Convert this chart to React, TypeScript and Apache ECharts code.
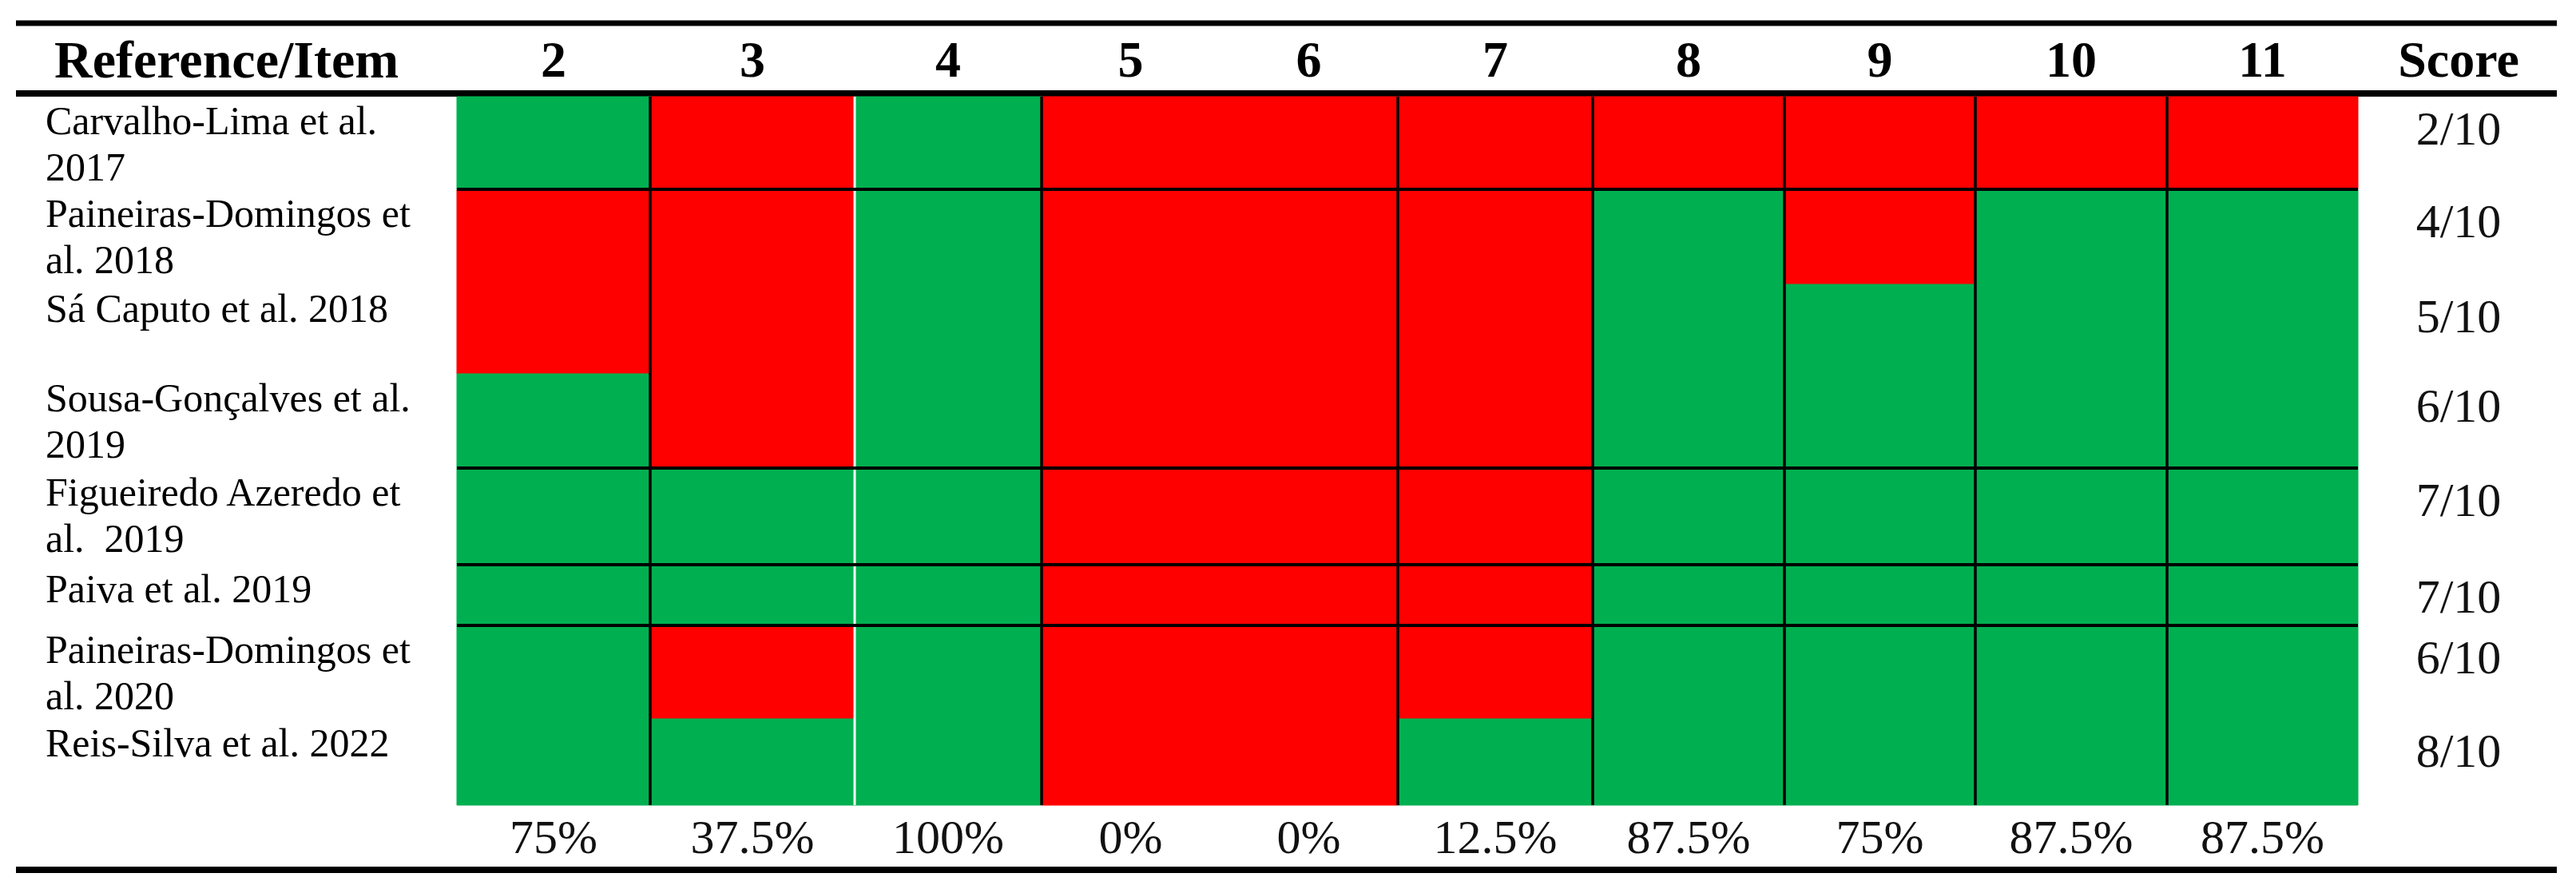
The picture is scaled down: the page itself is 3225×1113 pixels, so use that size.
import { useEffect, useRef } from "react";
import * as echarts from "echarts";

const items = ["2", "3", "4", "5", "6", "7", "8", "9", "10", "11"];
const references = [
  "Carvalho-Lima et al.\n2017",
  "Paineiras-Domingos et\nal. 2018",
  "Sá Caputo et al. 2018",
  "Sousa-Gonçalves et al.\n2019",
  "Figueiredo Azeredo et\nal.  2019",
  "Paiva et al. 2019",
  "Paineiras-Domingos et\nal. 2020",
  "Reis-Silva et al. 2022",
];
// 1 = item met (green), 0 = not met (red); columns follow `items`
const ratings = [
  [1, 0, 1, 0, 0, 0, 0, 0, 0, 0],
  [0, 0, 1, 0, 0, 0, 1, 0, 1, 1],
  [0, 0, 1, 0, 0, 0, 1, 1, 1, 1],
  [1, 0, 1, 0, 0, 0, 1, 1, 1, 1],
  [1, 1, 1, 0, 0, 0, 1, 1, 1, 1],
  [1, 1, 1, 0, 0, 0, 1, 1, 1, 1],
  [1, 0, 1, 0, 0, 0, 1, 1, 1, 1],
  [1, 1, 1, 0, 0, 1, 1, 1, 1, 1],
];
const scores = ["2/10", "4/10", "5/10", "6/10", "7/10", "7/10", "6/10", "8/10"];
const percentages = ["75%", "37.5%", "100%", "0%", "0%", "12.5%", "87.5%", "75%", "87.5%", "87.5%"];

// table layout: relative column widths / row heights of the original table
const colWidths = [242, 256, 234, 223, 223, 244, 240, 239, 240, 239];
const rowHeights = [116, 119, 112, 118, 121, 76, 117, 108];
// which inner edges carry a ruling
const ruledRowEdges = [1, 4, 5, 6];
const blackColEdges = [1, 3, 5, 6, 7, 8, 9];
const whiteColEdges = [2];

const GREEN = "#00b050";
const RED = "#ff0000";
const FONT = "'Liberation Serif', 'Times New Roman', serif";

const cumulate = (arr: number[]) =>
  arr.reduce((acc, v) => [...acc, acc[acc.length - 1] + v], [0]);
const colEdges = cumulate(colWidths);
const rowEdges = cumulate(rowHeights);
const nCols = items.length;
const nRows = references.length;

export default function App() {
  const chartRef = useRef<HTMLDivElement>(null);

  useEffect(() => {
    if (!chartRef.current) return;
    document.body.style.margin = "0";

    const chart = echarts.init(chartRef.current, null, { renderer: "svg" });

    const cellData: number[][] = [];
    ratings.forEach((row, r) => row.forEach((v, c) => cellData.push([c, r, v])));

    const option: any = {
      animation: false,
      grid: { left: 572, right: 273, top: 121, bottom: 105 },
      xAxis: { type: "value", min: 0, max: colEdges[nCols], show: false },
      yAxis: { type: "value", min: 0, max: rowEdges[nRows], inverse: true, show: false },
      graphic: [
        { type: "line", shape: { x1: 20, y1: 29, x2: 3201, y2: 29 }, style: { stroke: "#000", lineWidth: 7 } },
        { type: "line", shape: { x1: 20, y1: 117, x2: 3201, y2: 117 }, style: { stroke: "#000", lineWidth: 8 } },
        { type: "line", shape: { x1: 20, y1: 1089, x2: 3201, y2: 1089 }, style: { stroke: "#000", lineWidth: 8 } },
        {
          type: "text",
          x: 68,
          y: 74,
          style: {
            text: "Reference/Item",
            fontFamily: FONT,
            fontWeight: "bold",
            fontSize: 66,
            fill: "#000",
            align: "left",
            verticalAlign: "middle",
          },
        },
        {
          type: "text",
          x: 3078,
          y: 74,
          style: {
            text: "Score",
            fontFamily: FONT,
            fontWeight: "bold",
            fontSize: 64,
            fill: "#000",
            align: "center",
            verticalAlign: "middle",
          },
        },
      ],
      series: [
        {
          type: "custom",
          name: "cells",
          data: cellData,
          renderItem: (_p: any, api: any) => {
            const c = api.value(0);
            const r = api.value(1);
            const fill = api.value(2) ? GREEN : RED;
            const p0 = api.coord([colEdges[c], rowEdges[r]]);
            const p1 = api.coord([colEdges[c + 1], rowEdges[r + 1]]);
            return {
              type: "rect",
              shape: { x: p0[0], y: p0[1], width: p1[0] - p0[0], height: p1[1] - p0[1] },
              style: { fill, stroke: fill, lineWidth: 1 },
            };
          },
        },
        {
          type: "custom",
          name: "white rules",
          data: whiteColEdges.map((i) => [i]),
          renderItem: (_p: any, api: any) => {
            const i = api.value(0);
            const a = api.coord([colEdges[i], rowEdges[0]]);
            const b = api.coord([colEdges[i], rowEdges[nRows]]);
            return {
              type: "line",
              shape: { x1: a[0], y1: a[1], x2: b[0], y2: b[1] },
              style: { stroke: "#f2fffb", lineWidth: 3 },
            };
          },
        },
        {
          type: "custom",
          name: "column rules",
          data: blackColEdges.map((i) => [i]),
          renderItem: (_p: any, api: any) => {
            const i = api.value(0);
            const a = api.coord([colEdges[i], rowEdges[0]]);
            const b = api.coord([colEdges[i], rowEdges[nRows]]);
            return {
              type: "line",
              shape: { x1: a[0], y1: a[1], x2: b[0], y2: b[1] },
              style: { stroke: "#000", lineWidth: 3.5 },
            };
          },
        },
        {
          type: "custom",
          name: "row rules",
          data: ruledRowEdges.map((i) => [i]),
          renderItem: (_p: any, api: any) => {
            const i = api.value(0);
            const a = api.coord([colEdges[0], rowEdges[i]]);
            const b = api.coord([colEdges[nCols], rowEdges[i]]);
            return {
              type: "line",
              shape: { x1: a[0], y1: a[1], x2: b[0], y2: b[1] },
              style: { stroke: "#000", lineWidth: 4 },
            };
          },
        },
        {
          type: "custom",
          name: "row labels",
          data: references.map((_, r) => [r]),
          renderItem: (_p: any, api: any) => {
            const r = api.value(0);
            const left = api.coord([colEdges[0], rowEdges[r]]);
            const right = api.coord([colEdges[nCols], rowEdges[r]]);
            return {
              type: "group",
              children: [
                {
                  type: "text",
                  x: left[0] - 515,
                  y: left[1] + 1,
                  style: {
                    text: references[r],
                    fontFamily: FONT,
                    fontSize: 50,
                    lineHeight: 58,
                    fill: "#000",
                    align: "left",
                    verticalAlign: "top",
                  },
                },
                {
                  type: "text",
                  x: right[0] + 126,
                  y: right[1] + 40,
                  style: {
                    text: scores[r],
                    fontFamily: FONT,
                    fontSize: 60,
                    fill: "#111",
                    align: "center",
                    verticalAlign: "middle",
                  },
                },
              ],
            };
          },
        },
        {
          type: "custom",
          name: "column labels",
          data: items.map((_, c) => [c]),
          renderItem: (_p: any, api: any) => {
            const c = api.value(0);
            const mid = (colEdges[c] + colEdges[c + 1]) / 2;
            const top = api.coord([mid, rowEdges[0]]);
            const bottom = api.coord([mid, rowEdges[nRows]]);
            return {
              type: "group",
              children: [
                {
                  type: "text",
                  x: top[0],
                  y: top[1] - 47,
                  style: {
                    text: items[c],
                    fontFamily: FONT,
                    fontWeight: "bold",
                    fontSize: 64,
                    fill: "#000",
                    align: "center",
                    verticalAlign: "middle",
                  },
                },
                {
                  type: "text",
                  x: bottom[0],
                  y: bottom[1] + 40,
                  style: {
                    text: percentages[c],
                    fontFamily: FONT,
                    fontSize: 60,
                    fill: "#111",
                    align: "center",
                    verticalAlign: "middle",
                  },
                },
              ],
            };
          },
        },
      ],
    };

    chart.setOption(option);

    return () => {
      chart.dispose();
    };
  }, []);

  return (
    <div
      ref={chartRef}
      style={{ position: "fixed", left: 0, top: 0, width: "100vw", height: "100vh", background: "#fff" }}
    />
  );
}
